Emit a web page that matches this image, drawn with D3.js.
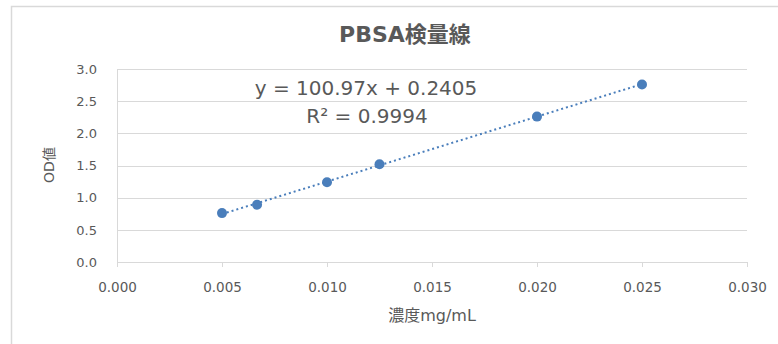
<!DOCTYPE html>
<html>
<head>
<meta charset="utf-8">
<style>
  body { margin: 0; background: #fff; }
  text { font-family: "DejaVu Sans", "Noto Sans CJK JP", sans-serif; }
</style>
</head>
<body>
<svg width="778" height="344"></svg>
<script src="https://d3js.org/d3.v7.min.js"></script>
<script>

  var concs = [0.005, 0.00667, 0.010, 0.0125, 0.020, 0.025];
  var odValues = [0.76, 0.89, 1.24, 1.52, 2.26, 2.76];
  var xTicks = [0, 0.005, 0.010, 0.015, 0.020, 0.025, 0.030];
  var yTicks = [0, 0.5, 1.0, 1.5, 2.0, 2.5, 3.0];
  var slope = 100.97, intercept = 0.2405;

  var svg = d3.select("svg"),
    margin = {top: 69, right: 31, bottom: 82, left: 117},
    width = +svg.attr("width") - margin.left - margin.right,
    height = +svg.attr("height") - margin.top - margin.bottom;

  // chart border
  svg.append("rect")
    .attr("x", 11.5).attr("y", 6.5)
    .attr("width", 770).attr("height", 350)
    .attr("fill", "none").attr("stroke", "#d9d9d9").attr("stroke-width", 1.5);

  var g = svg.append("g").attr("transform", "translate(" + margin.left + "," + margin.top + ")");

  var x = d3.scaleLinear().domain([0, 0.03]).range([0, width]);
  var y = d3.scaleLinear().domain([0, 3]).range([height, 0]);

  // grid
  g.append("g")
    .selectAll("line")
    .data(yTicks)
    .enter().append("line")
    .attr("x1", 0).attr("x2", width)
    .attr("y1", function (d) { return Math.round(y(d)) + 0.5; })
    .attr("y2", function (d) { return Math.round(y(d)) + 0.5; })
    .attr("stroke", "#d9d9d9");

  // y axis
  var yAxis = g.append("g")
    .call(d3.axisLeft(y).tickValues(yTicks).tickFormat(d3.format(".1f")).tickSize(0).tickPadding(20));
  yAxis.select(".domain").attr("stroke", "#d9d9d9");
  yAxis.selectAll("text").attr("fill", "#595959").style("font-size", "13px");

  // x axis
  var xAxis = g.append("g")
    .attr("transform", "translate(0," + height + ")")
    .call(d3.axisBottom(x).tickValues(xTicks).tickFormat(d3.format(".3f")).tickSize(5).tickSizeOuter(0).tickPadding(15));
  xAxis.select(".domain").attr("stroke", "#d9d9d9");
  xAxis.selectAll(".tick line").attr("stroke", "#d9d9d9");
  xAxis.selectAll("text").attr("fill", "#595959").style("font-size", "13.5px");

  // trendline
  var line = d3.line()
    .x(function (d) { return x(d); })
    .y(function (d) { return y(slope * d + intercept); });

  g.append("path")
    .datum([d3.min(concs), d3.max(concs)])
    .attr("fill", "none")
    .attr("stroke", "#4a7ebb")
    .attr("stroke-width", 2)
    .attr("stroke-dasharray", "2,3")
    .attr("d", line);

  // points
  g.selectAll("circle")
    .data(concs)
    .enter().append("circle")
    .attr("cx", function (d) { return x(d); })
    .attr("cy", function (d, i) { return y(odValues[i]); })
    .attr("r", 5)
    .attr("fill", "#4a7ebb");

  // title
  svg.append("text")
    .attr("x", 405).attr("y", 42)
    .attr("text-anchor", "middle")
    .attr("fill", "#595959")
    .style("font-size", "22px").style("font-weight", "bold")
    .text("PBSA検量線");

  // equation
  svg.append("text")
    .attr("x", 366).attr("y", 95)
    .attr("text-anchor", "middle")
    .attr("fill", "#595959")
    .style("font-size", "20px")
    .text("y = 100.97x + 0.2405");

  svg.append("text")
    .attr("x", 367).attr("y", 122.5)
    .attr("text-anchor", "middle")
    .attr("fill", "#595959")
    .style("font-size", "20px")
    .text("R² = 0.9994");

  // axis titles
  svg.append("text")
    .attr("x", 432).attr("y", 321)
    .attr("text-anchor", "middle")
    .attr("fill", "#595959")
    .style("font-size", "16px")
    .text("濃度mg/mL");

  svg.append("text")
    .attr("transform", "translate(54,165) rotate(-90)")
    .attr("text-anchor", "middle")
    .attr("fill", "#595959")
    .style("font-size", "14px")
    .text("OD値");

</script>
</body>
</html>
